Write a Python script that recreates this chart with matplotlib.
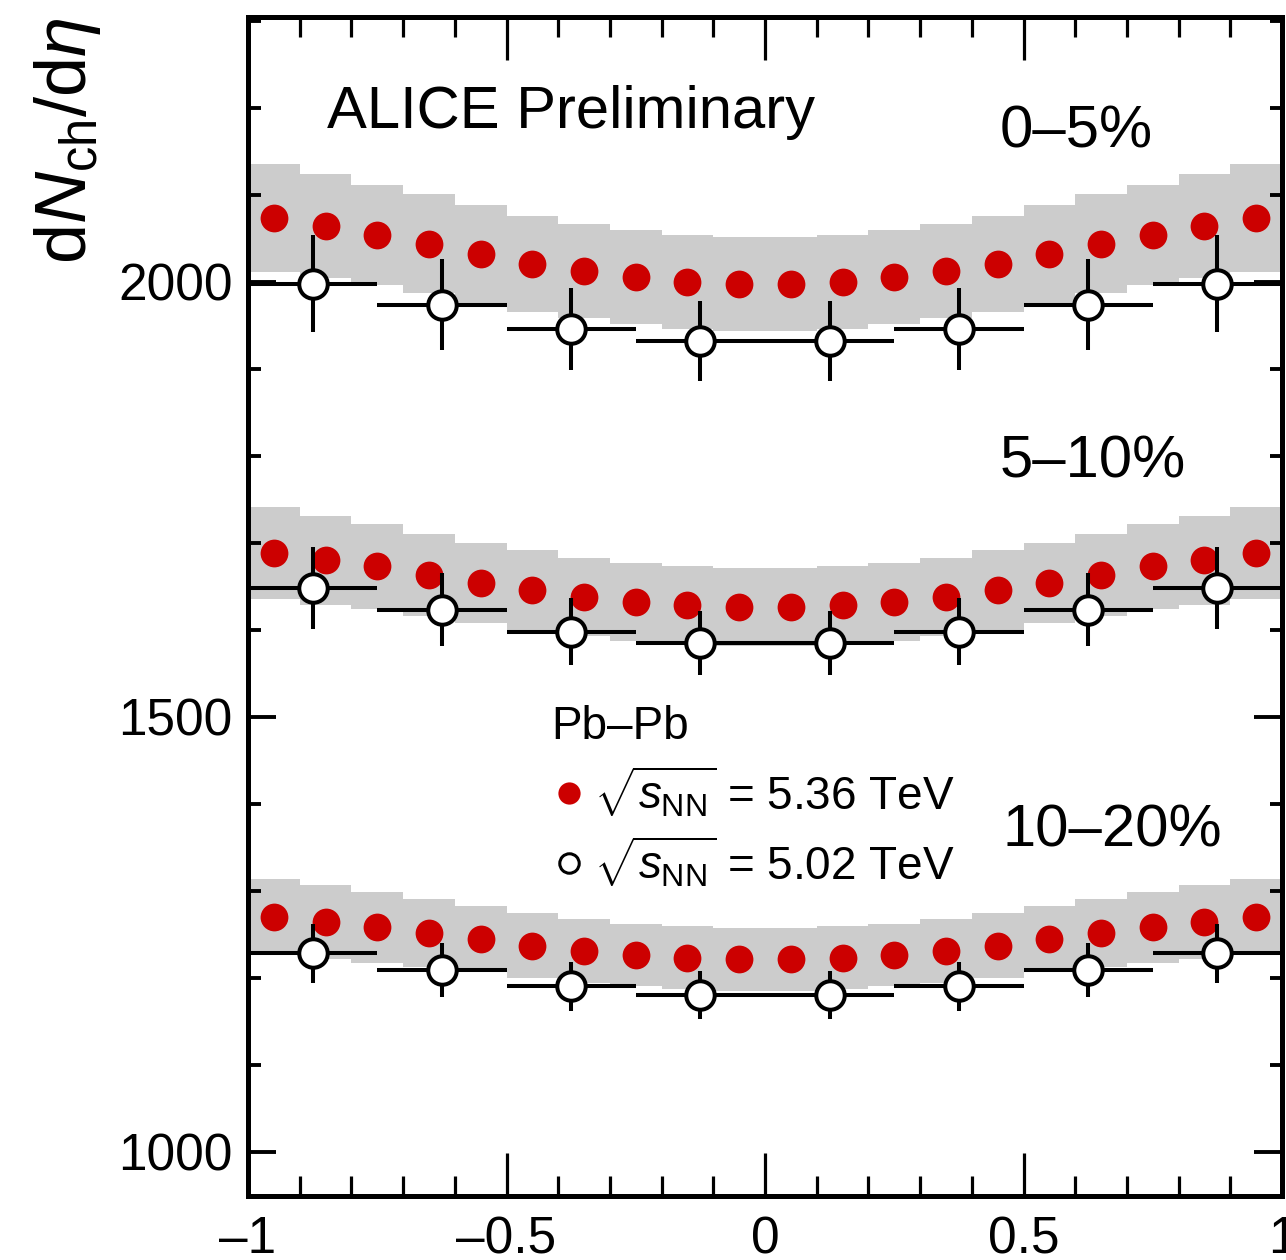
import numpy as np
import matplotlib
matplotlib.use('Agg')
import matplotlib.pyplot as plt
from matplotlib.lines import Line2D
from matplotlib.ticker import MultipleLocator

plt.rcParams['font.family'] = ['Liberation Sans', 'DejaVu Sans']
plt.rcParams['mathtext.fontset'] = 'custom'
plt.rcParams['mathtext.rm'] = 'Liberation Sans'
plt.rcParams['mathtext.it'] = 'Liberation Sans:italic'
plt.rcParams['mathtext.bf'] = 'Liberation Sans:bold'

# 5.36 TeV, bins of 0.1 in eta
eta_536 = [-0.95, -0.85, -0.75, -0.65, -0.55, -0.45, -0.35, -0.25, -0.15, -0.05,
           0.05, 0.15, 0.25, 0.35, 0.45, 0.55, 0.65, 0.75, 0.85, 0.95]
val_536_0_5 = [2074, 2064, 2054, 2044, 2032, 2021, 2013, 2006, 2000, 1998,
               1998, 2000, 2006, 2013, 2021, 2032, 2044, 2054, 2064, 2074]
sys_536_0_5 = [62, 60, 58, 57, 56, 55, 54, 54, 54, 54,
               54, 54, 54, 54, 55, 56, 57, 58, 60, 62]
val_536_5_10 = [1688, 1680, 1673, 1663, 1654, 1646, 1638, 1632, 1628, 1626,
                1626, 1628, 1632, 1638, 1646, 1654, 1663, 1673, 1680, 1688]
sys_536_5_10 = [53, 51, 49, 47, 46, 46, 45, 45, 45, 45,
                45, 45, 45, 45, 46, 46, 47, 49, 51, 53]
val_536_10_20 = [1270, 1264, 1258, 1251, 1244, 1237, 1231, 1226, 1223, 1221,
                 1221, 1223, 1226, 1231, 1237, 1244, 1251, 1258, 1264, 1270]
sys_536_10_20 = [44, 43, 41, 39, 38, 37, 37, 36, 36, 36,
                 36, 36, 36, 37, 37, 38, 39, 41, 43, 44]

# 5.02 TeV, bins of 0.25 in eta
eta_502 = [-0.875, -0.625, -0.375, -0.125, 0.125, 0.375, 0.625, 0.875]
val_502_0_5 = [1998, 1974, 1946, 1932, 1932, 1946, 1974, 1998]
err_502_0_5 = [56, 52, 47, 46, 46, 47, 52, 56]
val_502_5_10 = [1648, 1623, 1598, 1585, 1585, 1598, 1623, 1648]
err_502_5_10 = [47, 42, 39, 37, 37, 39, 42, 47]
val_502_10_20 = [1228, 1209, 1190, 1180, 1180, 1190, 1209, 1228]
err_502_10_20 = [34, 31, 28, 28, 28, 28, 31, 34]

cent_labels = ['0\u20135%', '5\u201310%', '10\u201320%']

fig = plt.figure(figsize=(12.86, 12.60), dpi=100)
ax = fig.add_axes([0.19285, 0.05079, 0.80404, 0.93595])

red = '#cc0000'
gray = '#cccccc'

for val, sys in [(val_536_0_5, sys_536_0_5), (val_536_5_10, sys_536_5_10),
                 (val_536_10_20, sys_536_10_20)]:
    val = np.array(val)
    sys = np.array(sys)
    ax.bar(eta_536, 2*sys, bottom=val-sys, width=0.1, color=gray, linewidth=0, zorder=1)
    ax.plot(eta_536, val, 'o', color=red, ms=20, mec='none', zorder=3)

for val, err in [(val_502_0_5, err_502_0_5), (val_502_5_10, err_502_5_10),
                 (val_502_10_20, err_502_10_20)]:
    ax.errorbar(eta_502, val, xerr=0.125, yerr=err, fmt='o', mfc='white', mec='black',
                mew=2.9, ms=20.5, ecolor='black', elinewidth=2.9, capsize=0, zorder=4)

ax.set_xlim(-1, 1)
ax.set_ylim(949, 2305)
ax.xaxis.set_major_locator(MultipleLocator(0.5))
ax.xaxis.set_minor_locator(MultipleLocator(0.1))
ax.yaxis.set_major_locator(MultipleLocator(500))
ax.yaxis.set_minor_locator(MultipleLocator(100))
ax.xaxis.set_major_formatter(plt.FuncFormatter(lambda v, p: ('%g' % v).replace('-', '\u2013')))

ax.tick_params(axis='both', which='both', direction='in', top=True, right=True, labelsize=37)
ax.tick_params(axis='x', which='major', length=31, width=2.3, pad=14)
ax.tick_params(axis='x', which='minor', length=14.5, width=2.3)
ax.tick_params(axis='y', which='major', length=20, width=2.8, pad=11)
ax.tick_params(axis='y', which='minor', length=9, width=2.8)
for s in ax.spines.values():
    s.set_linewidth(3.6)

ax.set_ylabel(r'd$N_{\rm ch}$/d$\eta$', fontsize=52, loc='top')
ax.yaxis.set_label_coords(-0.14, 1.0)

ax.text(0.0764, 0.9056, 'ALICE Preliminary', transform=ax.transAxes, fontsize=43, va='baseline')
ax.text(0.727, 0.8887, cent_labels[0], transform=ax.transAxes, fontsize=43, va='baseline')
ax.text(0.727, 0.6089, cent_labels[1], transform=ax.transAxes, fontsize=43, va='baseline')
ax.text(0.730, 0.2960, cent_labels[2], transform=ax.transAxes, fontsize=43, va='baseline')

handles = [Line2D([], [], ls='none', marker='o', color=red, mec='none', ms=16),
           Line2D([], [], ls='none', marker='o', mfc='white', mec='black', mew=2.2, ms=14)]
labels = [r'$\sqrt{s_{\rm NN}}$ = 5.36 TeV', r'$\sqrt{s_{\rm NN}}$ = 5.02 TeV']
leg = ax.legend(handles, labels, title='Pb\u2013Pb', loc='upper left',
                bbox_to_anchor=(0.293, 0.416), frameon=False, fontsize=33,
                title_fontsize=33, alignment='left', handlelength=0.8,
                handletextpad=0.14, borderpad=0, borderaxespad=0, labelspacing=0.33)

fig.savefig('out.png', dpi=100)
